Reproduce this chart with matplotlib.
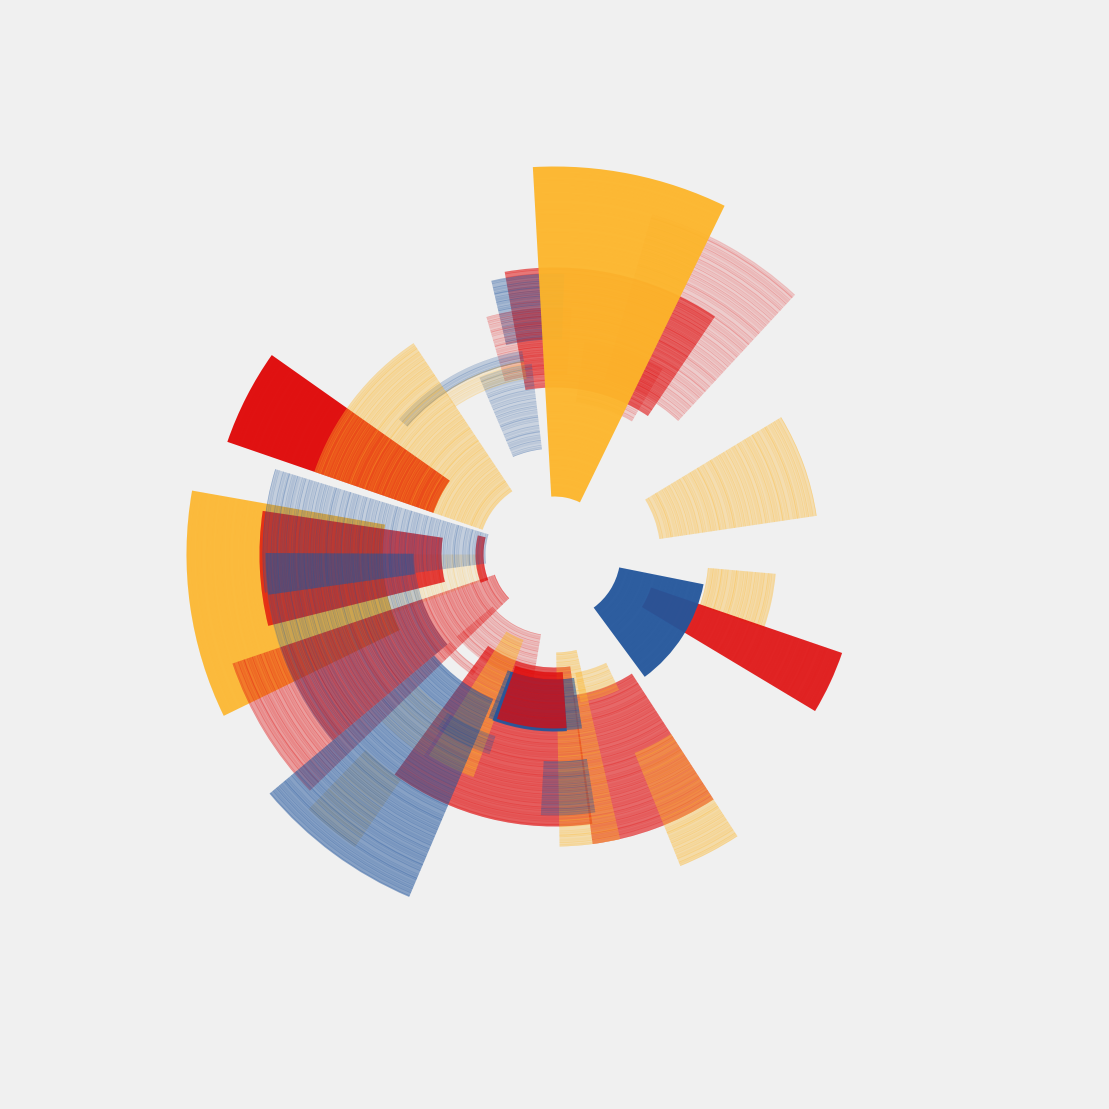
import numpy as np
import matplotlib
matplotlib.use('Agg')
import matplotlib.pyplot as plt

# colours of the three series
colors = {'gold': '#FDB62A', 'red': '#E00B0B', 'blue': '#22559C'}
background = '#F0F0F0'

# wedges in drawing order, angles clockwise from north (degrees)
series = ['red', 'red', 'red', 'blue', 'red',
          'blue', 'blue', 'gold', 'gold', 'red',
          'gold', 'gold', 'gold', 'red', 'gold',
          'red', 'red', 'red', 'red', 'red',
          'blue', 'blue', 'blue', 'red', 'red',
          'gold', 'gold', 'gold', 'gold', 'blue',
          'blue', 'blue', 'blue', 'blue', 'red',
          'gold', 'gold', 'red', 'blue', 'gold']
theta_start = [16, 8, -10, -13, -16,
               -23, -49, -34, -3.2, -71,
               -71, -116, -110, -134, -145.7,
               -170.4, -146, -104, -111, -130,
               -97.5, -130, -98, -188, 147,
               -160, 167, 154.5, 147, -157,
               -162, 171, 171, 176, 176,
               95, 58.8, 108.9, 101.3, -147]
theta_end = [42.8, 30.2, 34, 2, 4,
             -6.8, -9, -9, 26, -54.8,
             -33.7, -80, -90, -108.7, -136,
             -130, -130, -81.5, -76, -108.7,
             -73, -97.5, -89.7, -144, 172.5,
             -148, 179, 170, 158, -130,
             -146, 202, 183, 200.5, 199.3,
             109.5, 81.6, 121, 143.6, -134]
r_inner = [182, 154, 167, 215, 180,
           106, 195, 178, 58, 128,
           76, 172, 75, 63, 272,
           81, 137, 113, 71, 140,
           69, 140, 141, 113, 142,
           91, 98, 120, 214, 157,
           191, 125, 207, 125, 118,
           154, 106, 102, 66, 190]
r_outer = [354, 215, 287, 281, 247,
           192, 206, 196, 388, 346,
           254, 368, 172, 340, 354,
           128, 146, 295, 79, 289,
           292, 290, 289, 272, 292,
           237, 292, 150, 336, 372,
           210, 176, 261, 177, 174,
           222, 265, 304, 152, 240]
# how dense each wedge looks
density = [0.22, 0.22, 0.62, 0.45, 0.24,
           0.26, 0.32, 0.24, 0.96, 0.98,
           0.46, 0.93, 0.2, 0.46, 0.27,
           0.27, 0.27, 0.82, 0.78, 0.5,
           0.3, 0.3, 0.6, 0.72, 0.68,
           0.52, 0.44, 0.4, 0.46, 0.6,
           0.32, 0.62, 0.38, 0.92, 0.8,
           0.45, 0.42, 0.92, 0.96, 0.08]

# thin arcs laid over each wedge
arc_width = [1.2, 0.8, 2.0, 1.0, 0.7, 1.6, 0.9, 2.6, 1.1, 0.8, 1.4, 0.7, 1.9,
             1.0, 3.0, 0.9, 1.3, 0.7, 2.2, 1.0, 0.8, 1.7, 1.2, 0.9, 2.8, 0.7]
arc_gap = [0.6, 1.1, 0.4, 2.4, 0.7, 0.5, 1.3, 0.6, 3.0, 0.5, 0.9, 1.8, 0.5,
           0.8, 0.6, 2.2, 0.5, 1.0, 0.7, 3.4, 0.6, 0.9, 0.5, 1.6, 0.7, 1.2]
arc_alpha = [0.5, 0.9, 0.35, 0.7, 1.0, 0.3, 0.6, 0.4, 0.8, 1.0, 0.45, 0.7, 0.3,
             0.9, 0.4, 0.6, 1.0, 0.5, 0.35, 0.8, 0.6, 0.4, 1.0, 0.7, 0.3, 0.85]

fig = plt.figure(figsize=(11.09, 11.09), dpi=100, facecolor=background)
ax = fig.add_axes([0, 0, 1, 1], projection='polar', facecolor=background)
ax.set_theta_zero_location('N')
ax.set_theta_direction(-1)

for i in range(len(series)):
    start = np.deg2rad(theta_start[i])
    width = np.deg2rad(theta_end[i] - theta_start[i])
    color = colors[series[i]]
    a = density[i]
    ax.bar(start + width / 2, r_outer[i] - r_inner[i], width=width, bottom=r_inner[i],
           color=color, alpha=a * (0.6 + 0.4 * a), linewidth=0)
    # thin arcs on top, they fade out the more solid the wedge is
    r = r_inner[i]
    k = i * 7
    while r < r_outer[i]:
        h = min(arc_width[k % 26], r_outer[i] - r)
        ax.bar(start + width / 2, h, width=width, bottom=r, color=color,
               alpha=1.4 * a * (1 - a) * arc_alpha[k % 26], linewidth=0)
        r += h + arc_gap[k % 26]
        k += 1

ax.set_ylim(0, 554.5)
ax.set_axis_off()
fig.savefig('out.png', dpi=100, facecolor=background)
